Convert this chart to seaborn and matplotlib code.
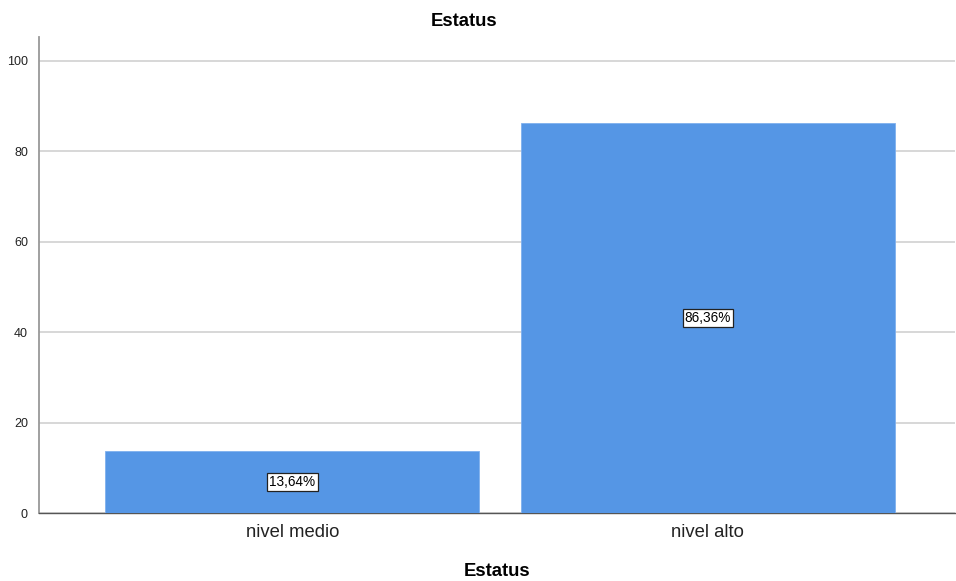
import matplotlib
matplotlib.use("Agg")
import matplotlib.pyplot as plt
import seaborn as sns
import pandas as pd

categories = ["nivel medio", "nivel alto"]
values = [13.64, 86.36]
labels = ["13,64%", "86,36%"]

sns.set_theme(style="white")
plt.rcParams['font.family'] = ['Liberation Sans', 'DejaVu Sans']

df = pd.DataFrame({"cat": categories, "val": values})

fig = plt.figure(figsize=(9.56, 5.81), dpi=100)
ax = fig.add_axes([0.0408, 0.1170, 0.9582, 0.8193])

sns.barplot(data=df, x="cat", y="val", color="#5596E5", saturation=1,
            width=0.9, ax=ax, zorder=3, edgecolor="#7fb0ee", linewidth=0.6)

ax.set_ylim(0, 105.3)
ax.set_xlim(-0.61, 1.595)
ax.set_yticks([0, 20, 40, 60, 80, 100])
ax.set_yticklabels(["0", "20", "40", "60", "80", "100"], fontsize=9, color="#222222")
ax.tick_params(axis="x", labelsize=13.3, length=0, pad=8, colors="#222222")
ax.tick_params(axis="y", length=0, pad=8)
ax.yaxis.grid(True, color="#d4d4d4", linewidth=1.3, zorder=0)
ax.set_axisbelow(True)
for s in ["top", "right"]:
    ax.spines[s].set_visible(False)
ax.spines["left"].set_color("#999999")
ax.spines["left"].set_linewidth(1.3)
ax.spines["bottom"].set_color("#555555")
ax.spines["bottom"].set_linewidth(1.0)

for i, (v, lab) in enumerate(zip(values, labels)):
    ax.text(i, v / 2, lab, ha="center", va="center", fontsize=9.8, color="black",
            zorder=5,
            bbox=dict(boxstyle="square,pad=0.15", facecolor="white",
                      edgecolor="#222222", linewidth=0.9))

fig.text(464 / 956, 1 - 21 / 581, "Estatus", fontsize=13.3, fontweight="bold",
         ha="center", va="center", color="black")
ax.set_xlabel("Estatus", fontsize=13.3, fontweight="bold", labelpad=16, color="black")
ax.set_ylabel("")

fig.savefig("out.png", dpi=100)
